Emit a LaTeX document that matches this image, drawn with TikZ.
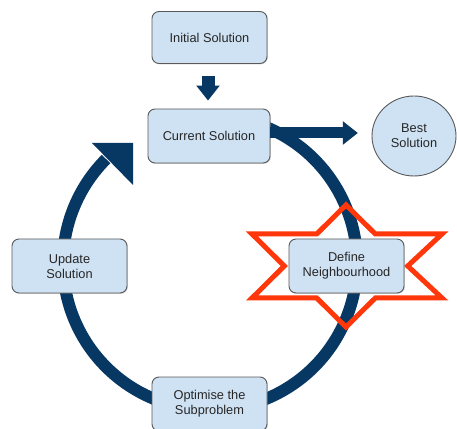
\documentclass[tikz,border=0pt]{standalone}
\usepackage{fontspec}
\setmainfont{Liberation Sans}
\usetikzlibrary{shapes.geometric,shadows,arrows.meta}
\definecolor{ringblue}{HTML}{073763}
\definecolor{boxfill}{HTML}{CFE2F3}
\definecolor{boxline}{HTML}{595959}
\definecolor{starred}{RGB}{255,55,10}
\definecolor{txt}{HTML}{262626}
\begin{document}
\begin{tikzpicture}[x=1pt,y=1pt,
  box/.style={draw=boxline, line width=0.9pt, fill=boxfill, rounded corners=7pt,
    minimum width=115pt, minimum height=54pt, align=center, text=txt,
    font=\fontsize{12.8}{15}\selectfont, inner sep=0pt,
    drop shadow={shadow xshift=0.8pt, shadow yshift=-0.8pt, opacity=0.35}},
  bestbox/.style={ellipse, draw=boxline, line width=0.9pt, fill=boxfill,
    minimum width=84pt, minimum height=80pt, align=center, text=txt,
    font=\fontsize{12.8}{15}\selectfont, inner sep=0pt},
  blockarrow/.style={draw=ringblue, line width=#1, -{Triangle[width=22.6pt,length=15pt]}},
  ringline/.style={draw=ringblue, line width=12pt},
  starline/.style={draw=starred, line width=5pt, line join=miter}]
\useasboundingbox (0,0) rectangle (457,428);
\fill[white] (0,0) rectangle (457,428);

% ring
\coordinate (ringc) at (210,165);
\draw[ringline] (ringc) ++(70:147) arc[start angle=70, end angle=-225, radius=147];
\fill[ringblue] (92,285) -- (133,285) -- (133,243) -- cycle;

% star
\draw[starline] (346,223) -- (375.3,194) -- (442,194) -- (407.7,162) -- (442,130)
  -- (375.3,130) -- (346,101) -- (316.7,130) -- (252,130) -- (284.3,162)
  -- (252,194) -- (316.7,194) -- cycle;

% nodes
\node[box, minimum height=52pt] (init) at (209.5,390.5) {Initial Solution};
\node[box, minimum width=122pt] (cur) at (209,292) {Current Solution};
\node[bestbox] (best) at (414,292) {Best\\Solution};
\node[box] (upd) at (69.5,162) {Update\\Solution};
\node[box] (def) at (346.5,162) {Define\\Neighbourhood};
\node[box] (opt) at (209.5,24) {Optimise the\\Subproblem};

% block arrows
\draw[blockarrow=13pt] ([xshift=-1.5pt,yshift=-12pt]init.south) -- ([xshift=-1pt,yshift=8pt]cur.north);
\draw[blockarrow=11pt] ([yshift=3pt]cur.east) -- ([yshift=3pt,xshift=-13.7pt]best.west);
\end{tikzpicture}
\end{document}
